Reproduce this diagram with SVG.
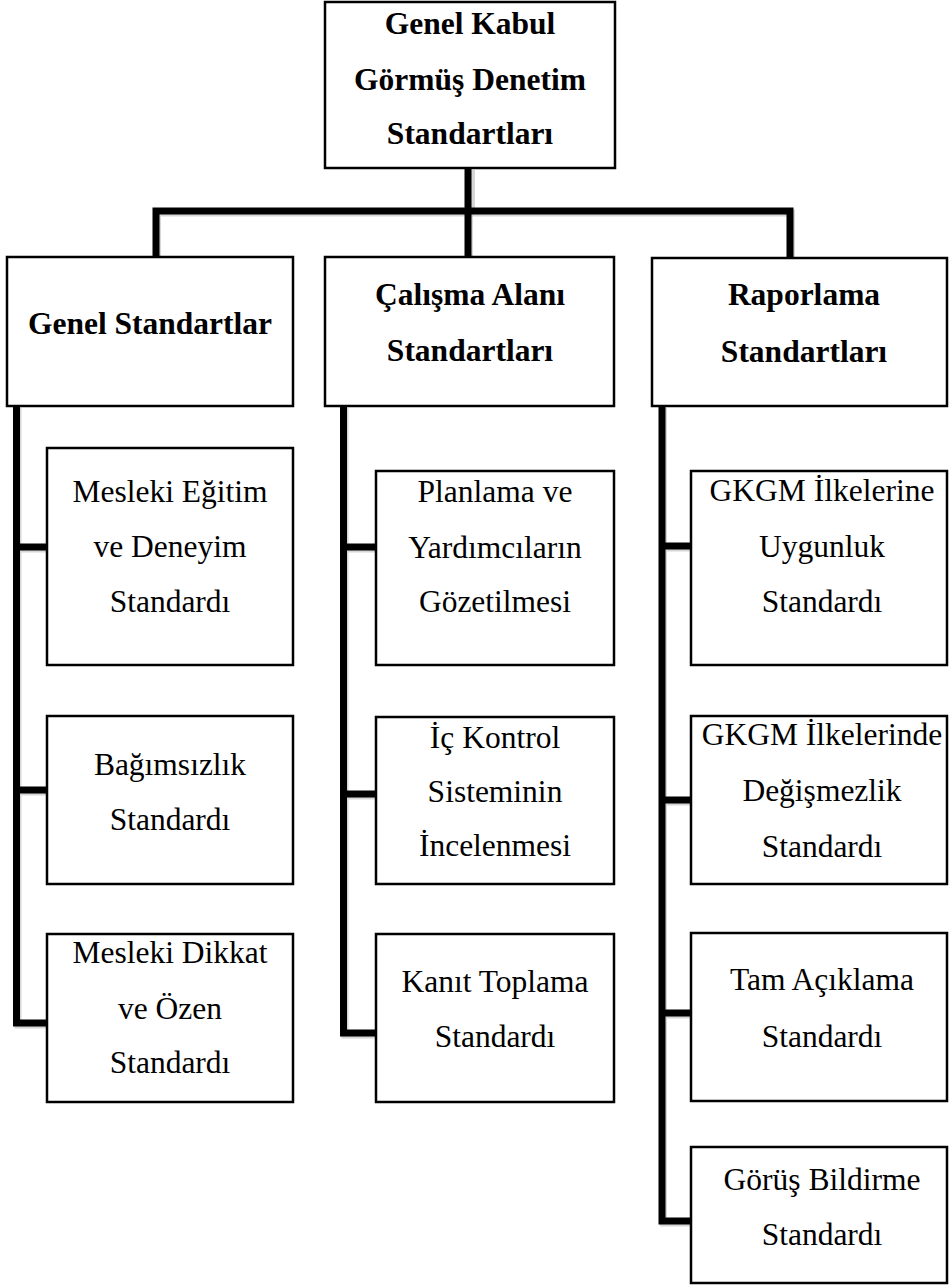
<svg xmlns="http://www.w3.org/2000/svg" width="949" height="1286" viewBox="0 0 949 1286">
<style>
.box{fill:#fff;stroke:#000;stroke-width:2.5}
.t{font-family:"Liberation Serif","Times New Roman",serif;font-size:31.5px;fill:#000;text-anchor:middle}
.b{font-weight:bold}
.c{fill:none;stroke:#000;stroke-width:7;stroke-linejoin:miter;stroke-linecap:butt}
.sh{fill:none;stroke:#bbb;stroke-width:7;opacity:0.6}
</style>
<rect width="949" height="1286" fill="#fff"/>
<g id="connectors">
<g transform="translate(1.5,2)">
<path class="sh" d="M470,168 V211"/>
<path class="sh" d="M156,258 V211 H790 V258"/>
<path class="sh" d="M468,211 V257"/>
<path class="sh" d="M16.5,406 V1023 H47 M16.5,547 H47 M16.5,790 H47"/>
<path class="sh" d="M343.5,406 V1033 H376 M343.5,547 H376 M343.5,794 H376"/>
<path class="sh" d="M662,406 V1221 H691 M662,546 H691 M662,800 H691 M662,1013 H691"/>
</g>
<path class="c" d="M468,168 V211"/>
<path class="c" d="M156,258 V211 H790 V258"/>
<path class="c" d="M468,211 V257"/>
<path class="c" d="M16.5,406 V1023 H47 M16.5,547 H47 M16.5,790 H47"/>
<path class="c" d="M343.5,406 V1033 H376 M343.5,547 H376 M343.5,794 H376"/>
<path class="c" d="M662,406 V1221 H691 M662,546 H691 M662,800 H691 M662,1013 H691"/>
</g>
<g id="root">
<rect class="box" x="325" y="2" width="290" height="166"/>
<text class="t b" x="470" y="34">Genel Kabul</text>
<text class="t b" x="470" y="90">Görmüş Denetim</text>
<text class="t b" x="470" y="144">Standartları</text>
</g>
<g id="genel">
<rect class="box" x="7" y="257" width="286" height="149"/>
<text class="t b" x="150" y="334">Genel Standartlar</text>
</g>
<g id="calisma">
<rect class="box" x="325" y="257" width="289" height="149"/>
<text class="t b" x="470" y="305">Çalışma Alanı</text>
<text class="t b" x="470" y="361">Standartları</text>
</g>
<g id="raporlama">
<rect class="box" x="652" y="258" width="295" height="148"/>
<text class="t b" x="804" y="305">Raporlama</text>
<text class="t b" x="804" y="362">Standartları</text>
</g>
<g id="g1">
<rect class="box" x="47" y="448" width="246" height="217"/>
<text class="t" x="170" y="502">Mesleki Eğitim</text>
<text class="t" x="170" y="557">ve Deneyim</text>
<text class="t" x="170" y="612">Standardı</text>
</g>
<g id="g2">
<rect class="box" x="47" y="716" width="246" height="168"/>
<text class="t" x="170" y="775">Bağımsızlık</text>
<text class="t" x="170" y="830">Standardı</text>
</g>
<g id="g3">
<rect class="box" x="47" y="934" width="246" height="168"/>
<text class="t" x="170" y="963">Mesleki Dikkat</text>
<text class="t" x="170" y="1019">ve Özen</text>
<text class="t" x="170" y="1073">Standardı</text>
</g>
<g id="c1">
<rect class="box" x="376" y="471" width="238" height="194"/>
<text class="t" x="495" y="502">Planlama ve</text>
<text class="t" x="495" y="558">Yardımcıların</text>
<text class="t" x="495" y="612">Gözetilmesi</text>
</g>
<g id="c2">
<rect class="box" x="376" y="717" width="238" height="167"/>
<text class="t" x="495" y="748">İç Kontrol</text>
<text class="t" x="495" y="802">Sisteminin</text>
<text class="t" x="495" y="856">İncelenmesi</text>
</g>
<g id="c3">
<rect class="box" x="376" y="934" width="238" height="168"/>
<text class="t" x="495" y="992">Kanıt Toplama</text>
<text class="t" x="495" y="1047">Standardı</text>
</g>
<g id="r1">
<rect class="box" x="691" y="471" width="256" height="194"/>
<text class="t" x="822" y="501">GKGM İlkelerine</text>
<text class="t" x="822" y="557">Uygunluk</text>
<text class="t" x="822" y="612">Standardı</text>
</g>
<g id="r2">
<rect class="box" x="691" y="716" width="256" height="168"/>
<text class="t" x="822" y="745">GKGM İlkelerinde</text>
<text class="t" x="822" y="801">Değişmezlik</text>
<text class="t" x="822" y="857">Standardı</text>
</g>
<g id="r3">
<rect class="box" x="691" y="933" width="256" height="168"/>
<text class="t" x="822" y="990">Tam Açıklama</text>
<text class="t" x="822" y="1047">Standardı</text>
</g>
<g id="r4">
<rect class="box" x="691" y="1147" width="256" height="136"/>
<text class="t" x="822" y="1190">Görüş Bildirme</text>
<text class="t" x="822" y="1245">Standardı</text>
</g>
</svg>
